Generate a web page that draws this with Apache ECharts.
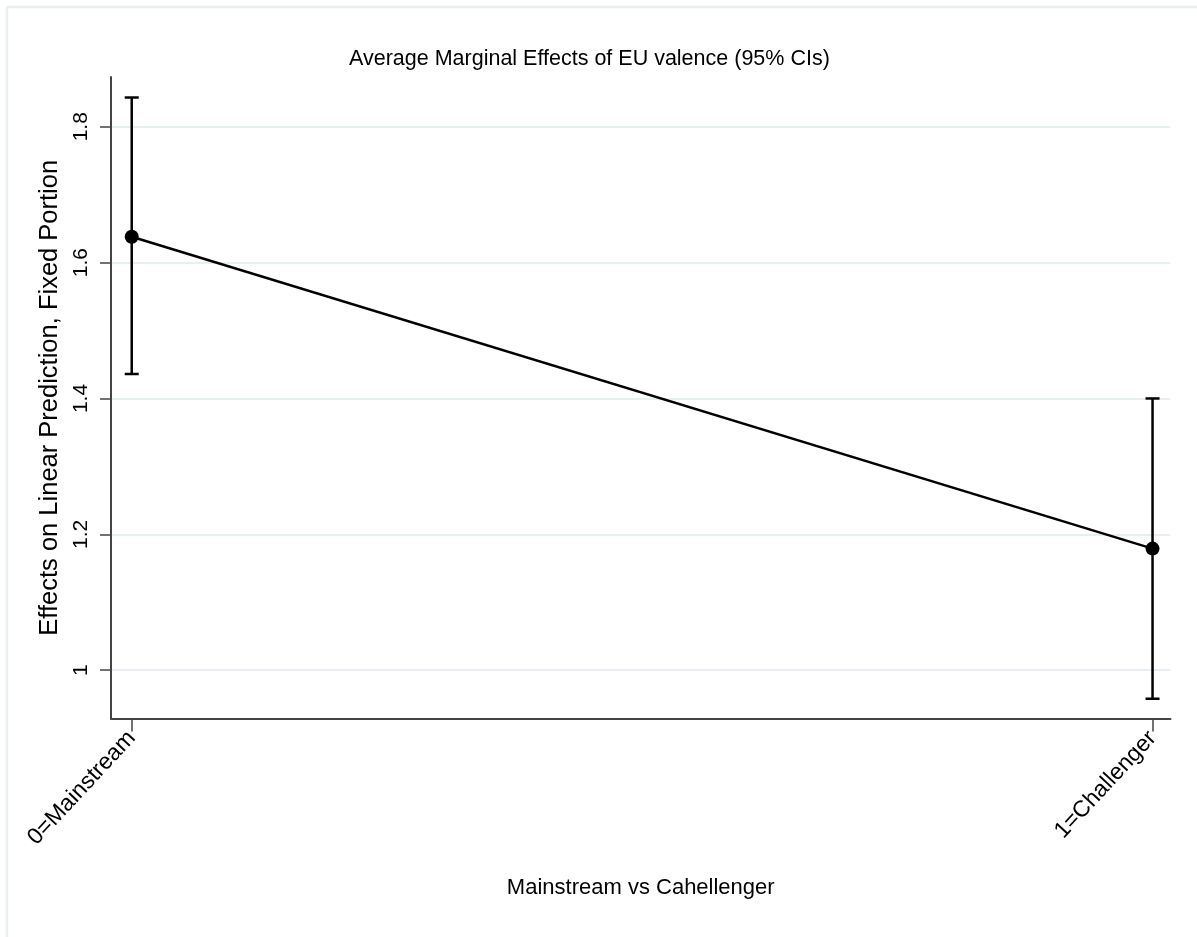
<!DOCTYPE html>
<html>
<head>
<meta charset="utf-8">
<script src="https://cdn.jsdelivr.net/npm/echarts@6/dist/echarts.min.js"></script>
<style>
html,body{margin:0;padding:0;background:#fff;}
#chart{width:1197px;height:937px;}
</style>
</head>
<body>
<div id="chart"></div>
<script>
// Data
const categories = ['0=Mainstream', '1=Challenger'];
const xPositions = [0, 1];
const margins = [1.638, 1.179];
const ciLower = [1.436, 0.958];
const ciUpper = [1.843, 1.400];
const yTicks = [1, 1.2, 1.4, 1.6, 1.8];

const chart = echarts.init(document.getElementById('chart'));
const FONT = '"Liberation Sans", Arial, sans-serif';

const pointData = xPositions.map((x, i) => [x, margins[i]]);
const ciData = xPositions.map((x, i) => [x, ciLower[i], ciUpper[i]]);

const option = {
  backgroundColor: '#ffffff',
  animation: false,
  title: {
    text: 'Average Marginal Effects of EU valence (95% CIs)',
    left: 344,
    top: 43,
    textStyle: { fontFamily: FONT, fontSize: 21.5, fontWeight: 'normal', color: '#000' }
  },
  graphic: [
    { type: 'line', shape: { x1: 7, y1: 7, x2: 1197, y2: 7 }, style: { stroke: '#e6f0f2', lineWidth: 2.5 } },
    { type: 'line', shape: { x1: 7, y1: 7, x2: 7, y2: 937 }, style: { stroke: '#e6f0f2', lineWidth: 2.5 } }
  ],
  grid: { left: 111, right: 26.5, top: 77, bottom: 218.5, containLabel: false },
  xAxis: {
    type: 'value',
    min: -0.0203,
    max: 1.0176,
    name: 'Mainstream vs Cahellenger',
    nameLocation: 'middle',
    nameGap: 158,
    nameTextStyle: { fontFamily: FONT, fontSize: 22, color: '#000' },
    axisLine: { show: true, onZero: false, lineStyle: { color: '#444', width: 2 } },
    axisTick: { show: true, length: 13, customValues: xPositions, lineStyle: { color: '#444', width: 1.5 } },
    axisLabel: {
      customValues: xPositions,
      rotate: 47,
      margin: 16,
      fontFamily: FONT, fontSize: 23, color: '#000',
      formatter: v => { const i = xPositions.indexOf(Math.round(v)); return i >= 0 ? categories[i] : ''; }
    },
    splitLine: { show: false }
  },
  yAxis: {
    type: 'value',
    min: 0.9289,
    max: 1.8732,
    name: 'Effects on Linear Prediction, Fixed Portion',
    nameLocation: 'middle',
    nameGap: 46,
    nameTextStyle: { fontFamily: FONT, fontSize: 25.5, color: '#000' },
    axisLine: { show: true, onZero: false, lineStyle: { color: '#444', width: 2 } },
    axisTick: { show: true, length: 11, customValues: yTicks, lineStyle: { color: '#444', width: 1.5 } },
    axisLabel: {
      customValues: yTicks,
      rotate: 90,
      margin: 19.5,
      fontFamily: FONT, fontSize: 21, color: '#000',
      formatter: v => String(Math.round(v * 10) / 10)
    },
    splitLine: { show: true, lineStyle: { color: '#e6f0f2', width: 2 } }
  },
  series: [
    {
      type: 'custom',
      data: ciData,
      renderItem: (params, api) => {
        const x = api.value(0);
        const lo = api.coord([x, api.value(1)]);
        const hi = api.coord([x, api.value(2)]);
        const cap = 7;
        const st = { stroke: '#000', lineWidth: 2.5 };
        return {
          type: 'group',
          children: [
            { type: 'line', shape: { x1: lo[0], y1: lo[1], x2: hi[0], y2: hi[1] }, style: st },
            { type: 'line', shape: { x1: lo[0] - cap, y1: lo[1], x2: lo[0] + cap, y2: lo[1] }, style: st },
            { type: 'line', shape: { x1: hi[0] - cap, y1: hi[1], x2: hi[0] + cap, y2: hi[1] }, style: st }
          ]
        };
      },
      z: 3
    },
    {
      type: 'line',
      data: pointData,
      symbol: 'circle',
      symbolSize: 14,
      lineStyle: { color: '#000', width: 2.5 },
      itemStyle: { color: '#000' },
      z: 4
    }
  ]
};
chart.setOption(option);
</script>
</body>
</html>
